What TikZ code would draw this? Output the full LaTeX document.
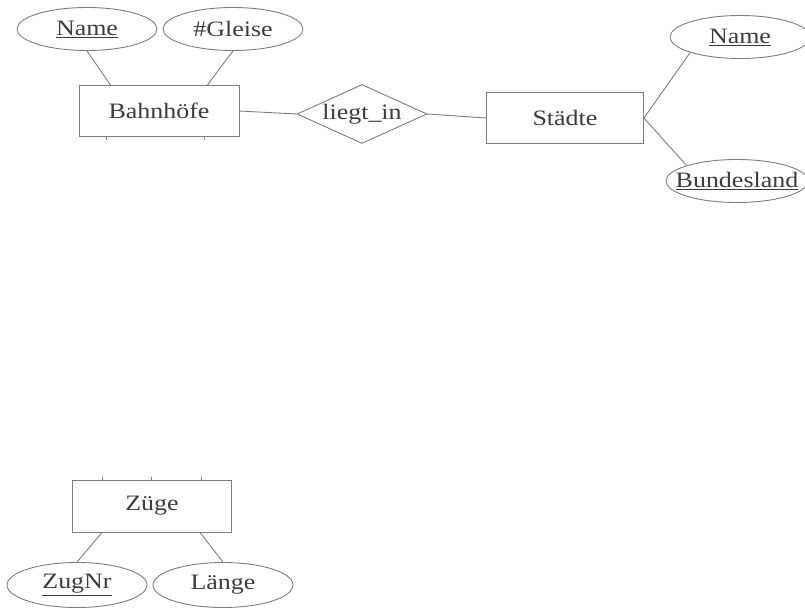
\documentclass[tikz,border=0pt]{standalone}
\usepackage{fontspec}
\setmainfont{Liberation Serif}
\usetikzlibrary{shapes.geometric}
\definecolor{lineGray}{RGB}{125,125,125}
\definecolor{textGray}{RGB}{60,60,60}
\newcommand{\wideTxt}[1]{\scalebox{1.18}[1]{#1}}
\begin{document}
\begin{tikzpicture}[x=1pt,y=-1pt]
\tikzset{entity/.style={draw=lineGray,line width=0.9pt,text=textGray,
  minimum width=160pt,minimum height=51pt,inner sep=0pt,
  font=\fontsize{22}{24}\selectfont}}
\tikzset{attr/.style={ellipse,draw=lineGray,line width=0.9pt,text=textGray,
  minimum width=140pt,minimum height=43pt,inner sep=0pt,
  font=\fontsize{22}{24}\selectfont}}
\tikzset{rel/.style={diamond,aspect=2.2,draw=lineGray,line width=0.9pt,text=textGray,
  minimum width=130pt,minimum height=59pt,inner sep=0pt,
  font=\fontsize{22}{24}\selectfont}}
\useasboundingbox (0,0) rectangle (805,608);
%entities
\node[entity] (bhf) at (159,111) {\wideTxt{Bahnhöfe}};
\node[entity,minimum width=157pt] (staedte) at (565,118) {\wideTxt{Städte}};
\node[entity,minimum width=159pt,minimum height=52pt] (zuege) at (152,506) {\wideTxt{Züge}};
%relationship
\node[rel] (liegt) at (362,114) {\wideTxt{liegt\_in}};
%attributes
\node[attr] (bhfname) at (87,29) {\wideTxt{\underline{Name}}};
\node[attr] (gleise) at (233,29) {\wideTxt{\#Gleise}};
\node[attr] (stname) at (740,37) {\wideTxt{\underline{Name}}};
\node[attr,minimum width=142pt,inner xsep=-12pt] (bland) at (737,181) {\wideTxt{\underline{Bundesland}}};
\node[attr,minimum height=45pt] (zugnr) at (77,585) {\wideTxt{\underline{ZugNr}}};
\node[attr,minimum height=45pt] (laenge) at (223,585) {\wideTxt{Länge}};
%connections
\begin{scope}[draw=lineGray,line width=0.9pt]
\draw (bhf.east)--(liegt.west);
\draw (liegt.east)--(staedte.west);
\draw (bhfname.south)--([xshift=32pt]bhf.north west);
\draw (gleise.south)--([xshift=-32pt]bhf.north east);
\draw (staedte.east)--(stname.south west);
\draw (staedte.east)--(bland.north west);
\draw ([xshift=30pt]zuege.south west)--(zugnr.north);
\draw ([xshift=-32pt]zuege.south east)--(laenge.north);
%stubs
\foreach \xLoc in {107,205}{
\draw[line width=0.6pt] ([xshift=\xLoc pt-79pt]bhf.south west)--++(0,3);}
\foreach \xLoc in {103,152,202}{
\draw[line width=0.6pt] ([xshift=\xLoc pt-73pt]zuege.north west)--++(0,-3);}
\end{scope}
\end{tikzpicture}
\end{document}
